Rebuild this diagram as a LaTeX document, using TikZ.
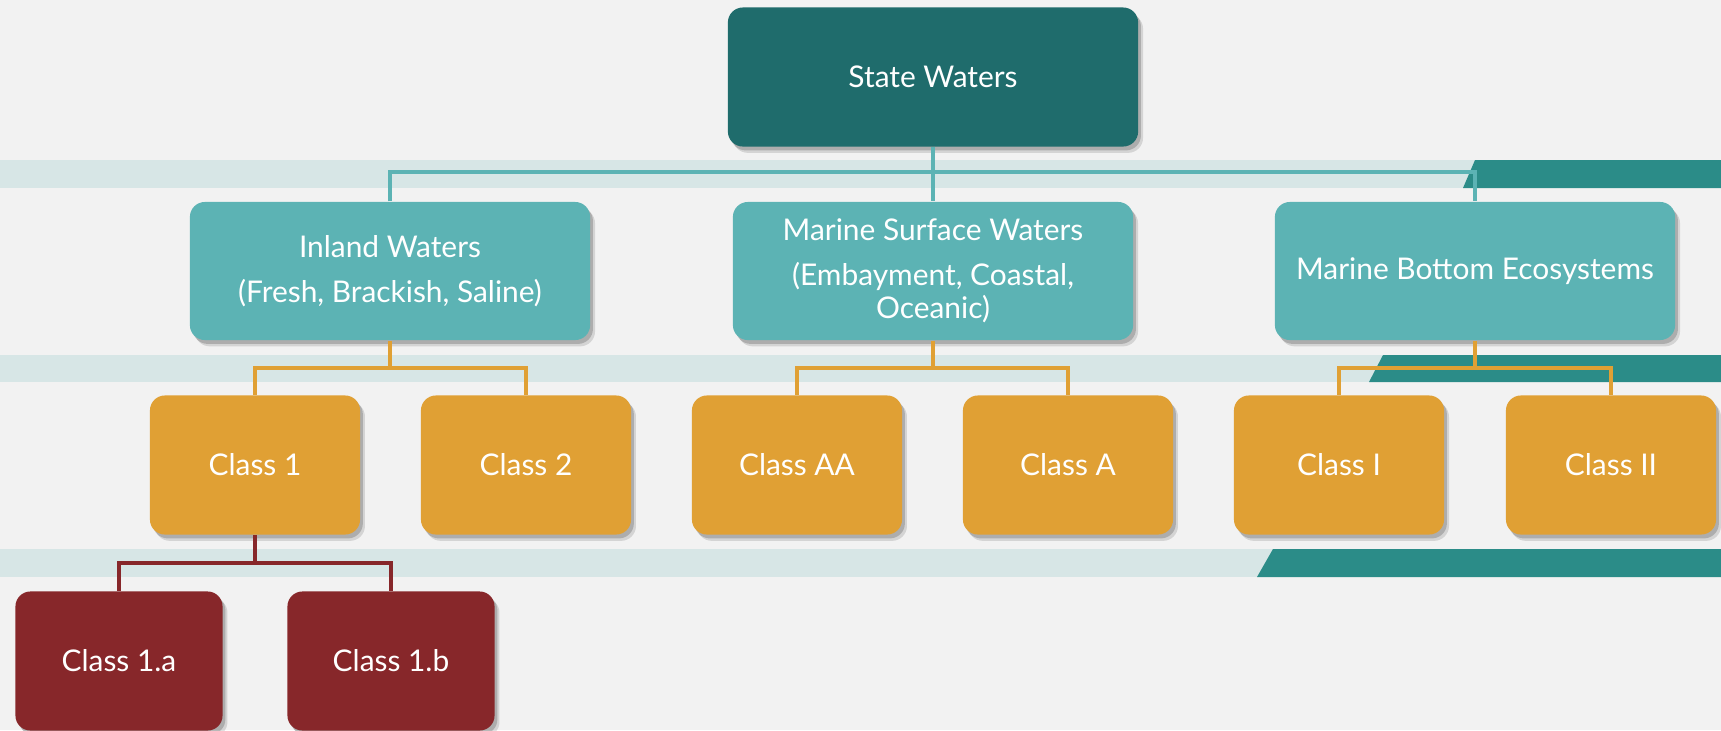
\documentclass[tikz,border=0pt]{standalone}
\usepackage{fontspec}
\setmainfont{Lato}
\usetikzlibrary{shadows}
\usetikzlibrary{calc}

\definecolor{pagegray}{HTML}{F2F2F2}
\definecolor{bandlight}{HTML}{D7E6E6}
\definecolor{banddark}{HTML}{2B8C88}
\definecolor{statecol}{HTML}{1F6C6C}
\definecolor{watercol}{HTML}{5CB3B4}
\definecolor{classcol}{HTML}{E0A034}
\definecolor{subcol}{HTML}{87272A}

\tikzset{
  box/.style={rounded corners=0.15cm, text=white, align=center, inner sep=0pt,
    font=\fontsize{8.5}{9.4}\selectfont,
    drop shadow={shadow xshift=1.4pt, shadow yshift=-1.8pt, opacity=0.12, fill=black},
    drop shadow={shadow xshift=0.8pt, shadow yshift=-1.1pt, opacity=0.18, fill=black}},
  statebox/.style={box, fill=statecol, minimum width=4.1cm, minimum height=1.39cm},
  waterbox/.style={box, fill=watercol, minimum width=4cm, minimum height=1.38cm},
  classbox/.style={box, fill=classcol, minimum width=2.1cm, minimum height=1.39cm},
  subbox/.style={box, fill=subcol, minimum width=2.07cm, minimum height=1.39cm},
  tealline/.style={draw=watercol, line width=1.1pt},
  orangeline/.style={draw=classcol, line width=1.1pt},
  redline/.style={draw=subcol, line width=1.1pt}
}

\begin{document}
\begin{tikzpicture}[x=0.01cm, y=-0.01cm]

        % page and bands
        \fill[pagegray] (0,0) rectangle (1721,730);
        \useasboundingbox (0,0) rectangle (1721,730);
        \fill[bandlight] (0,160) rectangle (1721,188);
        \fill[banddark] (1475,160) -- (1721,160) -- (1721,188) -- (1463,188) -- cycle;
        \fill[bandlight] (0,355) rectangle (1721,382);
        \fill[banddark] (1383,355) -- (1721,355) -- (1721,382) -- (1369,382) -- cycle;
        \fill[bandlight] (0,549) rectangle (1721,577);
        \fill[banddark] (1273,549) -- (1721,549) -- (1721,577) -- (1257,577) -- cycle;

        % top box
        \node[statebox] (state) at (933,77) {State Waters};

        % water boxes
        \node[waterbox] (inland) at (390,271) {Inland Waters\\[3.4pt](Fresh, Brackish, Saline)};
        \node[waterbox] (surface) at (933,271) {Marine Surface Waters\\[3.4pt](Embayment, Coastal,\\Oceanic)};
        \node[waterbox] (bottom) at (1475,271) {Marine Bottom Ecosystems};

        % class boxes
        \node[classbox] (class_1) at (255,465) {Class 1};
        \node[classbox] (class_2) at (526,465) {Class 2};
        \node[classbox] (class_aa) at (797,465) {Class AA};
        \node[classbox] (class_a) at (1068,465) {Class A};
        \node[classbox] (class_i) at (1339,465) {Class I};
        \node[classbox] (class_ii) at (1611,465) {Class II};

        % sub class boxes
        \node[subbox] (class_1a) at (119,661) {Class 1.a};
        \node[subbox] (class_1b) at (391,661) {Class 1.b};

        % bus points
        \coordinate (state_bus) at (933,172);
        \coordinate (inland_bus) at (390,368);
        \coordinate (surface_bus) at (933,368);
        \coordinate (bottom_bus) at (1475,368);
        \coordinate (class_1_bus) at (255,563);

        % draw the teal connectors
        \draw[tealline] (state.south) -- (surface.north);
        \draw[tealline] (inland.north) |- (state_bus) -| (bottom.north);

        % draw the orange connectors
        \draw[orangeline] (inland.south) -- (inland_bus);
        \draw[orangeline] (class_1.north) |- (inland_bus) -| (class_2.north);
        \draw[orangeline] (surface.south) -- (surface_bus);
        \draw[orangeline] (class_aa.north) |- (surface_bus) -| (class_a.north);
        \draw[orangeline] (bottom.south) -- (bottom_bus);
        \draw[orangeline] (class_i.north) |- (bottom_bus) -| (class_ii.north);

        % draw the red connectors
        \draw[redline] (class_1.south) -- (class_1_bus);
        \draw[redline] (class_1a.north) |- (class_1_bus) -| (class_1b.north);

\end{tikzpicture}
\end{document}
